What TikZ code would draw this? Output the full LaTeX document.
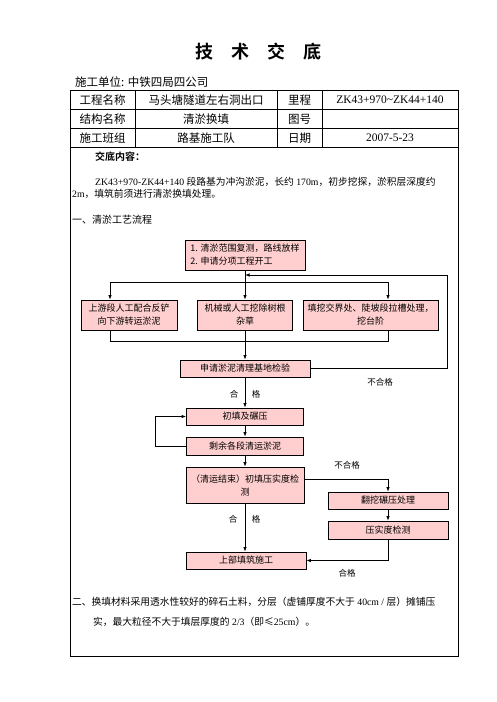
\documentclass[tikz,border=0pt]{standalone}
\usepackage{fontspec}
\setmainfont{Liberation Serif}
\newfontfamily\cjk{Noto Sans CJK SC}
\newfontfamily\cjkb{Noto Sans CJK SC Bold}
\usetikzlibrary{arrows.meta}
\definecolor{boxpink}{RGB}{255,206,206}

\begin{document}
\begin{tikzpicture}[x=1pt, y=-1pt,
    flowbox/.style={draw, line width=0.8pt, fill=boxpink, inner sep=0pt, align=center,
        font=\cjk\fontsize{9}{13}\selectfont},
    tabtext/.style={font=\cjk\fontsize{11.5}{13}\selectfont},
    bodytext/.style={anchor=west, inner sep=0pt, font=\fontsize{9.75}{12}\selectfont},
    note/.style={font=\cjk\fontsize{8.5}{10}\selectfont},
    flow/.style={-{Latex[length=4.5pt,width=3.5pt]}, line width=0.8pt}]
    \useasboundingbox (0,0) rectangle (496,702);

    % Title
    \node (title) at (258.5,52) {\cjkb\fontsize{18}{20}\selectfont 技\quad 术\quad 交\quad 底};
    \node[anchor=west, inner sep=0pt, tabtext] (unit) at (75,82) {施工单位: 中铁四局四公司};

    % Table frame
    \draw[line width=0.8pt] (70,90) rectangle (458,656);
    \foreach \y in {109,128,147}
        \draw[line width=0.8pt] (70,\y) -- (458,\y);
    \foreach \x in {135,277,322}
        \draw[line width=0.8pt] (\x,90) -- (\x,147);

    % Table cells
    \node[tabtext] (projkey) at (102.5,100) {工程名称};
    \node[tabtext] (projval) at (206,100) {马头塘隧道左右洞出口};
    \node[tabtext] (mileskey) at (299.5,100) {里程};
    \node[font=\fontsize{11.5}{13}\selectfont] (milesval) at (390,100) {ZK43+970\textasciitilde ZK44+140};
    \node[tabtext] (structkey) at (102.5,119) {结构名称};
    \node[tabtext] (structval) at (206,119) {清淤换填};
    \node[tabtext] (drawkey) at (299.5,119) {图号};
    \node[tabtext] (teamkey) at (102.5,138) {施工班组};
    \node[tabtext] (teamval) at (206,138) {路基施工队};
    \node[tabtext] (datekey) at (299.5,138) {日期};
    \node[font=\fontsize{11.5}{13}\selectfont] (dateval) at (390,138) {2007-5-23};

    % Content text
    \node[bodytext, font=\cjkb\fontsize{10}{12}\selectfont] (head) at (95,157) {交底内容：};
    \node[bodytext] (line1) at (95,182) {ZK43+970-ZK44+140 {\cjk 段路基为冲沟淤泥，长约} 170m{\cjk ，初步挖探，淤积层深度约}};
    \node[bodytext] (line2) at (72,194) {2m{\cjk ，填筑前须进行清淤换填处理。}};
    \node[bodytext, font=\cjk\fontsize{10}{12}\selectfont] (step1) at (72,220) {一、清淤工艺流程};

    % Flow boxes
    \node[flowbox, minimum width=120pt, minimum height=30pt, align=left] (survey) at (245,255)
        {1. 清淤范围复测，路线放样\\2. 申请分项工程开工};
    \node[flowbox, minimum width=96pt, minimum height=30pt] (upstream) at (129,315) {上游段人工配合反铲\\向下游转运淤泥};
    \node[flowbox, minimum width=95pt, minimum height=30pt] (roots) at (245,315) {机械或人工挖除树根\\杂草};
    \node[flowbox, minimum width=135pt, minimum height=30pt] (bench) at (370.5,315) {填挖交界处、陡坡段拉槽处理，\\挖台阶};
    \node[flowbox, minimum width=130pt, minimum height=17pt] (inspect) at (245,368.5) {申请淤泥清理基地检验};
    \node[flowbox, minimum width=117pt, minimum height=17pt] (fill) at (245,416.5) {初填及碾压};
    \node[flowbox, minimum width=117pt, minimum height=18pt] (haul) at (245,446) {剩余各段清运淤泥};
    \node[flowbox, minimum width=118pt, minimum height=36pt] (compact) at (245,485) {（清运结束）初填压实度检\\测};
    \node[flowbox, minimum width=120pt, minimum height=17pt] (redo) at (388,500.5) {翻挖碾压处理};
    \node[flowbox, minimum width=120pt, minimum height=18pt] (recheck) at (388,530) {压实度检测};
    \node[flowbox, minimum width=120pt, minimum height=17pt] (upper) at (246,560.5) {上部填筑施工};

    % Split to the three works
    \coordinate (split) at (245,282);
    \coordinate (splitL) at (110,282);
    \coordinate (splitR) at (388,282);
    \draw[line width=0.8pt] (survey.south) -- (split);
    \draw[line width=0.8pt] (splitL) -- (splitR);
    \draw[flow] (splitL) -- (splitL |- upstream.north);
    \draw[flow] (split) -- (roots.north);
    \draw[flow] (splitR) -- (splitR |- bench.north);

    % Join below the works
    \coordinate (joinL) at (110,341);
    \coordinate (joinR) at (388,341);
    \draw[line width=0.8pt] (joinL |- upstream.south) -- (joinL) -- (joinR) -- (joinR |- bench.south);
    \draw[flow] (roots.south) -- (inspect.north);

    % Failed inspection goes back
    \coordinate (backR) at (447,275);
    \coordinate (backIn) at (245,275);
    \draw[flow] (inspect.east) -| (backR) -- (backIn);
    \node[note] (fail1) at (380,382) {不合格};

    % Filling
    \draw[flow] (inspect.south) -- (fill.north);
    \node[note] (pass1a) at (234,394) {合};
    \node[note] (pass1b) at (256,394) {格};
    \draw[flow] (fill.south) -- (haul.north);
    \coordinate (loopL) at (155,446);
    \draw[flow] (haul.west) -- (loopL) |- (fill.west);
    \draw[flow] (haul.south) -- (compact.north);

    % Compaction check
    \draw[flow] ([yshift=6pt]compact.east) -| (redo.north);
    \node[note] (fail2) at (347,465) {不合格};
    \draw[flow] (redo.south) -- (recheck.north);
    \draw[flow] (recheck.south) |- (upper.east);
    \node[note] (pass3) at (347,573) {合格};
    \draw[flow] (compact.south) -- (compact.south |- upper.north);
    \node[note] (pass2a) at (233,519) {合};
    \node[note] (pass2b) at (256,519) {格};

    % Filling material
    \node[bodytext] (mat1) at (72,602) {{\cjk 二、换填材料采用透水性较好的碎石土料，分层（虚铺厚度不大于} 40cm / {\cjk 层）摊铺压}};
    \node[bodytext] (mat2) at (93,622) {{\cjk 实，最大粒径不大于填层厚度的} 2/3{\cjk （即≤}25cm{\cjk ）。}};
\end{tikzpicture}
\end{document}
